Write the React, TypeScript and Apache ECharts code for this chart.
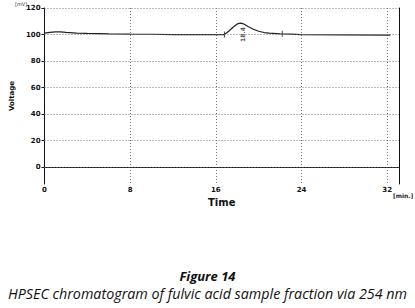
import React, { useEffect, useRef } from "react";
import * as echarts from "echarts";

const times = [0, 0.5, 1, 1.5, 2, 3, 4, 6, 8, 10, 12, 14, 16, 16.8, 17.2, 17.6, 18, 18.3, 18.6, 19, 19.5, 20, 20.5, 21, 22, 23, 24, 28, 32.3];
const voltages = [101, 101.6, 102, 102, 101.6, 101, 100.8, 100.5, 100.3, 100.2, 100, 100, 100, 100, 102.5, 105.5, 108, 108.6, 108, 106, 104, 102.5, 101.5, 101, 100.5, 100.3, 100, 99.8, 99.6];
const xTicks = [0, 8, 16, 24, 32];
const yTicks = [0, 20, 40, 60, 80, 100, 120];
const peakMarks: [number, number][] = [[16.8, 100], [22.2, 100.5]];
const peakLabel = { time: 18.3, value: 100, text: "18.4" };
const caption = "Figure 14";
const subcaption = "HPSEC chromatogram of fulvic acid sample fraction via 254 nm";

export default function App() {
  const ref = useRef<HTMLDivElement>(null);
  useEffect(() => {
    if (!ref.current) return;
    const chart = echarts.init(ref.current, null, { renderer: "svg" });
    const font = "DejaVu Sans";
    chart.setOption({
      animation: false,
      grid: { left: 41, top: 8, right: 16, bottom: 124 },
      xAxis: {
        type: "value",
        min: 0,
        max: 33.1,
        interval: 8,
        name: "Time",
        nameLocation: "middle",
        nameGap: 11,
        nameTextStyle: { fontFamily: font, fontSize: 10, fontWeight: "bold", color: "#111" },
        axisLine: { lineStyle: { color: "#111", width: 1 } },
        axisTick: { show: false },
        axisLabel: { fontFamily: font, fontSize: 7, fontWeight: "bold", color: "#111", margin: 2, customValues: xTicks },
        splitLine: { show: true, lineStyle: { color: "#777", type: [1, 2], width: 1 } },
      },
      yAxis: [
        {
          type: "value",
          min: -12.7,
          max: 120,
          name: "Voltage",
          nameLocation: "middle",
          nameGap: 29,
          nameTextStyle: { fontFamily: font, fontSize: 7, fontWeight: "bold", color: "#111" },
          axisLine: { show: true, lineStyle: { color: "#111", width: 1 } },
          axisTick: { show: true, length: 3, customValues: yTicks, lineStyle: { color: "#111" } },
          axisLabel: { fontFamily: font, fontSize: 7, fontWeight: "bold", color: "#111", margin: 4, customValues: yTicks },
          splitLine: { show: false },
        },
        {
          type: "value",
          min: -12.7,
          max: 120,
          position: "right",
          axisLine: { show: true, lineStyle: { color: "#111", width: 1 } },
          axisTick: { show: false },
          axisLabel: { show: false },
          splitLine: { show: false },
        },
      ],
      series: [
        {
          type: "line",
          data: times.map((t, i) => [t, voltages[i]]),
          symbol: "none",
          lineStyle: { color: "#222", width: 1.2 },
          markLine: {
            silent: true,
            symbol: "none",
            label: { show: false },
            lineStyle: { color: "#777", type: [1, 2], width: 1 },
            data: yTicks.map((v) => ({ yAxis: v })),
          },
        },
        {
          type: "scatter",
          data: peakMarks,
          symbol: "rect",
          symbolSize: [1, 6],
          itemStyle: { color: "#222" },
        },
        {
          type: "scatter",
          data: [[peakLabel.time, peakLabel.value]],
          symbolSize: 0,
          label: {
            show: true,
            formatter: peakLabel.text,
            rotate: 90,
            position: "inside",
            fontFamily: font,
            fontSize: 6,
            fontWeight: "bold",
            color: "#222",
            offset: [0, 2],
          },
        },
      ],
      graphic: [
        { type: "text", left: 15, top: 1, style: { text: "[mV]", fontFamily: font, fontSize: 5, fill: "#333" } },
        { type: "text", left: 393, top: 192, style: { text: "[min.]", fontFamily: font, fontSize: 6, fontWeight: "bold", fill: "#222" } },
        {
          type: "text",
          left: "center",
          top: 269,
          style: { text: caption, fontFamily: "Open Sans", fontSize: 13, fontWeight: "bold", fontStyle: "italic", fill: "#111" },
        },
        {
          type: "text",
          left: "center",
          top: 286,
          style: { text: subcaption, fontFamily: "Open Sans", fontSize: 14.3, fontStyle: "italic", fill: "#111" },
        },
      ],
    });
    return () => chart.dispose();
  }, []);
  return <div ref={ref} style={{ position: "fixed", left: 0, top: 0, width: 415, height: 308, background: "#fff" }} />;
}
